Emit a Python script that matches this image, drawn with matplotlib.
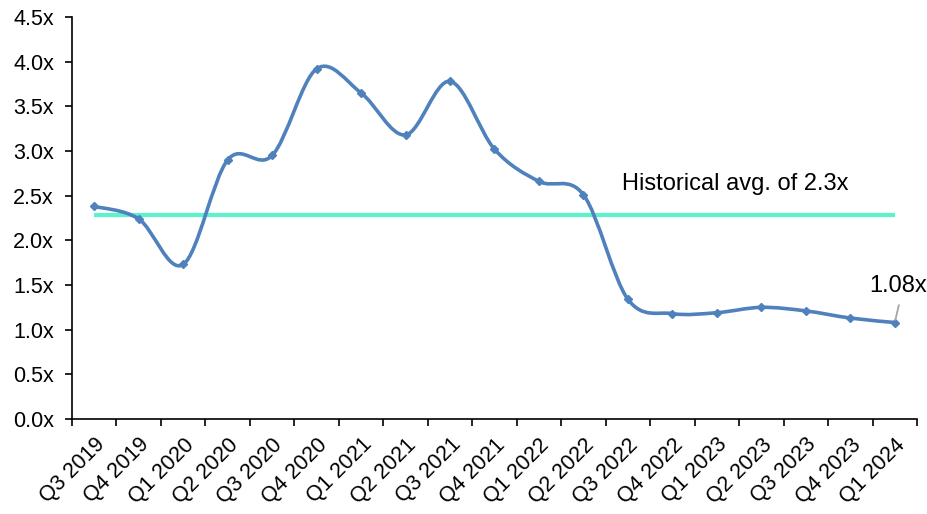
import numpy as np
import matplotlib
matplotlib.use('Agg')
import matplotlib.pyplot as plt
from matplotlib.path import Path
from matplotlib.patches import PathPatch

plt.rcParams['font.family'] = ['Liberation Sans', 'DejaVu Sans']

quarters = ['Q3 2019', 'Q4 2019', 'Q1 2020', 'Q2 2020', 'Q3 2020', 'Q4 2020',
            'Q1 2021', 'Q2 2021', 'Q3 2021', 'Q4 2021', 'Q1 2022', 'Q2 2022',
            'Q3 2022', 'Q4 2022', 'Q1 2023', 'Q2 2023', 'Q3 2023', 'Q4 2023',
            'Q1 2024']
multiple = [2.38, 2.24, 1.73, 2.90, 2.95, 3.92,
            3.65, 3.18, 3.78, 3.02, 2.66, 2.51,
            1.34, 1.18, 1.19, 1.25, 1.21, 1.13,
            1.08]
hist_avg = 2.28
hist_label = 'Historical avg. of 2.3x'

LINE_BLUE = '#4F81BD'
AVG_GREEN = '#5CF2CC'


def smooth_path(x, y):
    # cubic Bezier through every point (Catmull-Rom style control points)
    pts = np.column_stack([x, y]).astype(float)
    n = len(pts)
    verts = [pts[0]]
    codes = [Path.MOVETO]
    for i in range(n - 1):
        p0 = pts[max(i - 1, 0)]
        p1 = pts[i]
        p2 = pts[i + 1]
        p3 = pts[min(i + 2, n - 1)]
        c1 = p1 + (p2 - p0) / 6.0
        c2 = p2 - (p3 - p1) / 6.0
        verts += [c1, c2, p2]
        codes += [Path.CURVE4] * 3
    return Path(verts, codes)


x = np.arange(len(quarters))

fig = plt.figure(figsize=(9.28, 5.14), dpi=100)
ax = fig.add_axes([72 / 928, 95 / 514, 845 / 928, 402 / 514])

ax.plot(x, [hist_avg] * len(x), color=AVG_GREEN, lw=3, solid_capstyle='butt', zorder=2)
ax.add_patch(PathPatch(smooth_path(x, multiple), facecolor='none',
                       edgecolor=LINE_BLUE, lw=2.6, zorder=3))
ax.plot(x, multiple, ls='none', marker='D', ms=4.5, color=LINE_BLUE, zorder=4)

ax.text(11.87, 2.63, hist_label, fontsize=17, ha='left', va='center')
# leader line from the bottom of the value label down to the last point
ax.annotate(f'{multiple[-1]:.2f}x', xy=(x[-1], multiple[-1]),
            xytext=(x[-1] + 0.07, 1.49), fontsize=17, ha='center', va='center',
            arrowprops=dict(arrowstyle='-', color='#A6A6A6', lw=1.3,
                            relpos=(0.55, 0.0), shrinkA=4, shrinkB=2),
            zorder=5)

ax.set_xlim(-0.5, len(x) - 0.5)
ax.set_ylim(0, 4.5)
ax.set_yticks(np.arange(0, 4.51, 0.5))
ax.set_yticklabels([f'{v:.1f}x' for v in np.arange(0, 4.51, 0.5)], fontsize=15.5)

ax.set_xticks(x)
ax.set_xticklabels(quarters, rotation=45, ha='right', va='top',
                   rotation_mode='anchor', fontsize=15.5)
ax.set_xticks(np.arange(-0.5, len(x), 1.0), minor=True)
ax.tick_params(axis='x', which='major', length=0, pad=11)
ax.tick_params(axis='x', which='minor', length=5, width=1.2, direction='out')
ax.tick_params(axis='y', length=5, width=1.2, direction='out', pad=8)

for side in ('top', 'right'):
    ax.spines[side].set_visible(False)
for side in ('left', 'bottom'):
    ax.spines[side].set_linewidth(1.2)

fig.savefig('out.png', dpi=100)
